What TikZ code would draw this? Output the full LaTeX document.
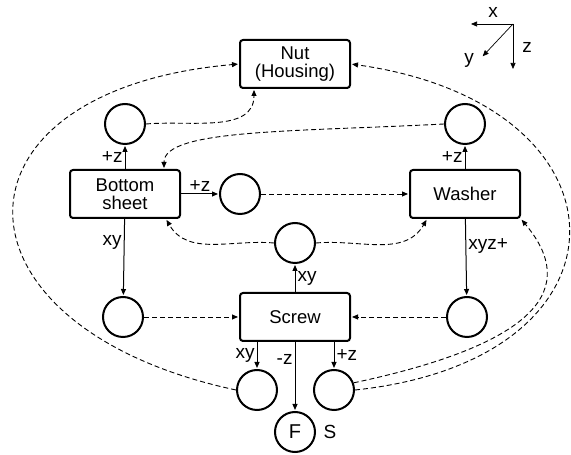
\documentclass[tikz,border=0pt]{standalone}
\usepackage{fontspec}
\setmainfont{Liberation Sans}
\usetikzlibrary{positioning, arrows.meta, calc}

\tikzset{
  part/.style={draw, line width=2pt, rounded corners=3pt, minimum width=110pt,
    minimum height=48pt, align=center, font=\fontsize{18.5}{18}\selectfont},
  joint/.style={draw, circle, line width=2pt, minimum size=40pt, inner sep=0pt,
    font=\fontsize{20}{20}\selectfont},
  lbl/.style={font=\fontsize{19}{19}\selectfont, inner sep=2pt},
  flow/.style={-{Triangle[length=6pt,width=5pt]}, line width=1pt},
  link/.style={flow, line width=0.9pt, dash pattern=on 5pt off 3pt},
}

\begin{document}
\begin{tikzpicture}[x=1pt, y=1pt, shorten >=1pt, node distance=70pt, on grid, auto]
        \useasboundingbox (0,0) rectangle (571,455);
        \node[part]  (Bottom)                                   at (125,261) {Bottom\\sheet};
        \node[joint] (Bz)     [above=of Bottom]                 {};
        \node[joint] (Bx)     [right=115pt of Bottom]           {};
        \node[part]  (Washer) [right=340pt of Bottom]           {Washer};
        \node[joint] (Wz)     [above=of Washer]                 {};
        \node[part]  (Nut)    [above right=130pt and 170pt of Bottom] {Nut\\(Housing)};
        \node[part]  (Screw)  [below right=123pt and 170pt of Bottom] {Screw};
        \node[joint] (Sxy)    [above=74pt of Screw]             {};
        \node[joint] (Bxy)    [left=172pt of Screw]             {};
        \node[joint] (Wxyz)   [right=172pt of Screw]            {};
        \node[joint] (Sa)     [below left=73pt and 38pt of Screw]  {};
        \node[joint] (Sb)     [below right=73pt and 39pt of Screw] {};
        \node[joint] (F)      [below=115pt of Screw]            {F};
        \node[lbl]   (S)      [right=35pt of F]                 {S};

        % axes
        \coordinate (O)  at (513,431);
        \coordinate (Ox) at (470,431);
        \coordinate (Oy) at (482,398);
        \coordinate (Oz) at (513,385);
        \node[lbl] (xl) at (493,443) {x};
        \node[lbl] (yl) at (469,395) {y};
        \node[lbl] (zl) at (527,408) {z};
        \draw[flow, line width=0.7pt] (O) -- (Ox);
        \draw[flow, line width=0.7pt] (O) -- (Oy);
        \draw[flow, line width=0.7pt] (O) -- (Oz);

        \path[flow]
          (Bottom) edge node[lbl,left] {+z} (Bz)
                   edge node[lbl] {+z} (Bx)
                   edge node[lbl,left,pos=0.3] {xy} (Bxy)
          (Washer) edge node[lbl,left] {+z} (Wz)
                   edge node[lbl,right,pos=0.35] {xyz+} (Wxyz)
          (Screw)  edge node[lbl,right] {xy} (Sxy)
                   edge node[lbl,left,pos=0.25] {-z} (F);
        \draw[flow] (Screw.south -| Sa) -- node[lbl,left] {xy} (Sa);
        \draw[flow] (Screw.south -| Sb) -- node[lbl,right] {+z} (Sb);

        \path[link]
          (Bx)   edge (Washer)
          (Bxy)  edge (Screw)
          (Wxyz) edge (Screw)
          (Bz.east)  edge[out=5, in=-90] ([xshift=15pt]Nut.south west)
          (Wz.west)  edge[out=183, in=90, out distance=150pt, in distance=40pt] ([xshift=-17pt]Bottom.north east)
          (Sxy.west) edge[out=175, in=-60] ([xshift=-15pt]Bottom.south east)
          (Sxy.east) edge[out=5, in=-120] ([xshift=18pt]Washer.south west)
          (Sa.west)  edge[out=168, in=185, looseness=2.37] (Nut.west)
          (Sb.20)    edge[out=12, in=-50, out distance=190pt, in distance=90pt] (Washer.south east)
          (Sb.east)  edge[out=6, in=-8, out distance=290pt, in distance=290pt] (Nut.east);
      \end{tikzpicture}
\end{document}
